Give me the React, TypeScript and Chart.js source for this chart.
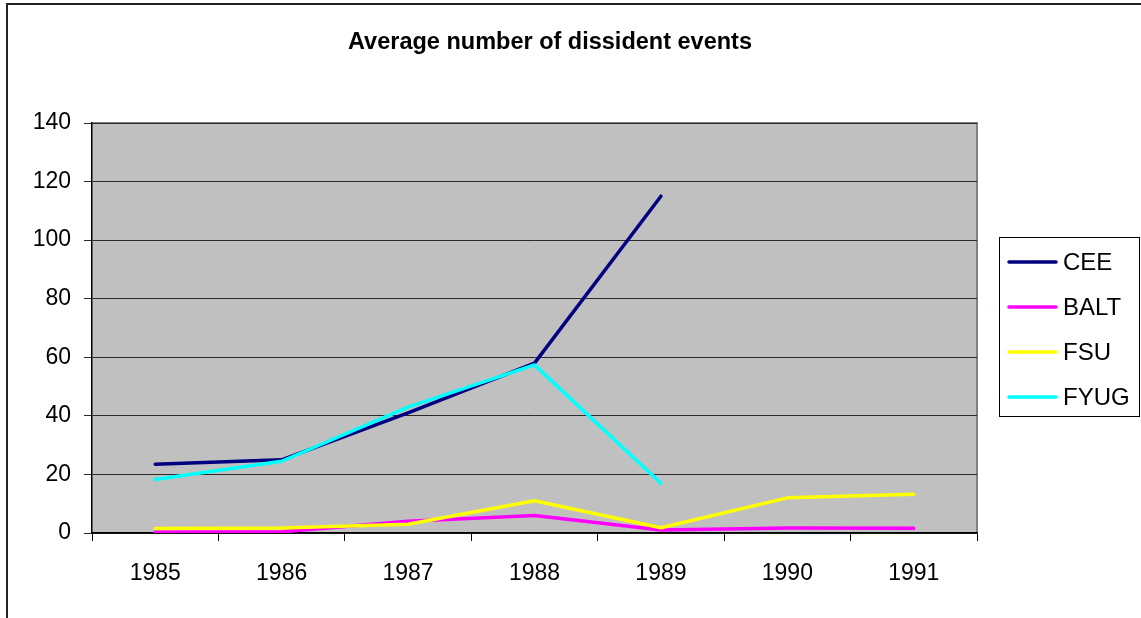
import React, { useEffect, useRef } from "react";
import { Chart, registerables } from "chart.js";

Chart.register(...registerables);

// Categories and series values
const years = ["1985", "1986", "1987", "1988", "1989", "1990", "1991"];
const ceeValues = [23.5, 25, 41, 58, 115, null, null];
const baltValues = [0.3, 0.4, 4, 6, 1, 1.7, 1.6];
const fsuValues = [1.5, 1.7, 3, 11, 1.8, 12, 13.2];
const fyugValues = [18.3, 24.5, 43, 57.4, 17, null, null];

const seriesNames = ["CEE", "BALT", "FSU", "FYUG"];
const seriesColors = ["#000080", "#FF00FF", "#FFFF00", "#00FFFF"];

const titleText = "Average number of dissident events";
const FONT = '"Liberation Sans", Arial, sans-serif';

const W = 1141;
const H = 618;

// Frame, plot background, title and legend drawn around the chart area
const decorPlugin = {
  id: "decor",
  beforeDraw(chart: any) {
    const { ctx, chartArea: a } = chart;
    ctx.save();
    ctx.fillStyle = "#ffffff";
    ctx.fillRect(0, 0, W, H);
    // outer frame
    ctx.fillStyle = "#222222";
    ctx.fillRect(6, 3, W, 2);
    ctx.fillRect(6, 3, 2, H);
    // plot area
    ctx.fillStyle = "#C0C0C0";
    ctx.fillRect(a.left, a.top, a.right - a.left, a.bottom - a.top);
    ctx.strokeStyle = "#808080";
    ctx.lineWidth = 2;
    ctx.beginPath();
    ctx.moveTo(a.left, a.top);
    ctx.lineTo(a.right, a.top);
    ctx.lineTo(a.right, a.bottom);
    ctx.stroke();
    // title
    ctx.fillStyle = "#000";
    ctx.font = `bold 23.5px ${FONT}`;
    ctx.textAlign = "center";
    ctx.textBaseline = "alphabetic";
    ctx.fillText(titleText, 550, 49);
    ctx.restore();
  },
  afterDraw(chart: any) {
    const { ctx } = chart;
    ctx.save();
    // legend box
    ctx.fillStyle = "#ffffff";
    ctx.fillRect(999, 237, 141, 180);
    ctx.strokeStyle = "#000";
    ctx.lineWidth = 1;
    ctx.strokeRect(999.5, 237.5, 140, 179);
    chart.data.datasets.forEach((ds: any, i: number) => {
      const y = 262 + i * 45;
      ctx.strokeStyle = ds.borderColor;
      ctx.lineWidth = 3.5;
      ctx.lineCap = "round";
      ctx.beginPath();
      ctx.moveTo(1009, y);
      ctx.lineTo(1056, y);
      ctx.stroke();
      ctx.fillStyle = "#000";
      ctx.font = `24px ${FONT}`;
      ctx.textAlign = "left";
      ctx.textBaseline = "alphabetic";
      ctx.fillText(ds.label, 1063, y + 8);
    });
    ctx.restore();
  },
};

export default function App() {
  const canvasRef = useRef<HTMLCanvasElement | null>(null);

  useEffect(() => {
    document.body.style.margin = "0";
    const canvas = canvasRef.current;
    if (!canvas) return;
    const valueSets = [ceeValues, baltValues, fsuValues, fyugValues];
    const chart = new Chart(canvas, {
      type: "line",
      data: {
        labels: years,
        datasets: valueSets.map((vals, i) => ({
          label: seriesNames[i],
          data: vals,
          borderColor: seriesColors[i],
          backgroundColor: seriesColors[i],
          borderWidth: 3.5,
          pointRadius: 0,
          tension: 0,
          spanGaps: false,
          borderCapStyle: "round" as const,
          borderJoinStyle: "round" as const,
          // later series sit on top of earlier ones
          order: valueSets.length - i,
        })),
      },
      options: {
        responsive: false,
        animation: false,
        devicePixelRatio: 1,
        layout: { padding: { left: 0, top: 123, right: W - 977, bottom: 0 } },
        plugins: {
          legend: { display: false },
          title: { display: false },
          tooltip: { enabled: false },
        },
        scales: {
          x: {
            offset: true,
            afterFit: (s: any) => {
              s.height = H - 533;
            },
            grid: {
              offset: true,
              drawOnChartArea: false,
              drawTicks: true,
              tickLength: 8,
              color: "#000",
              lineWidth: 1,
            },
            border: { display: true, color: "#000", width: 1.5 },
            ticks: {
              color: "#000",
              font: { family: FONT, size: 23 },
              padding: 19,
              maxRotation: 0,
              autoSkip: false,
            },
          },
          y: {
            min: 0,
            max: 140,
            afterFit: (s: any) => {
              s.width = 92;
            },
            grid: {
              drawTicks: true,
              tickLength: 8,
              color: "#2a2a2a",
              lineWidth: 1,
            },
            border: { display: true, color: "#000", width: 1.5 },
            ticks: {
              stepSize: 20,
              color: "#000",
              font: { family: FONT, size: 23 },
              padding: 13,
            },
          },
        },
      },
      plugins: [decorPlugin],
    });
    return () => chart.destroy();
  }, []);

  return (
    <div style={{ width: W, height: H }}>
      <canvas ref={canvasRef} width={W} height={H} style={{ display: "block" }} />
    </div>
  );
}
